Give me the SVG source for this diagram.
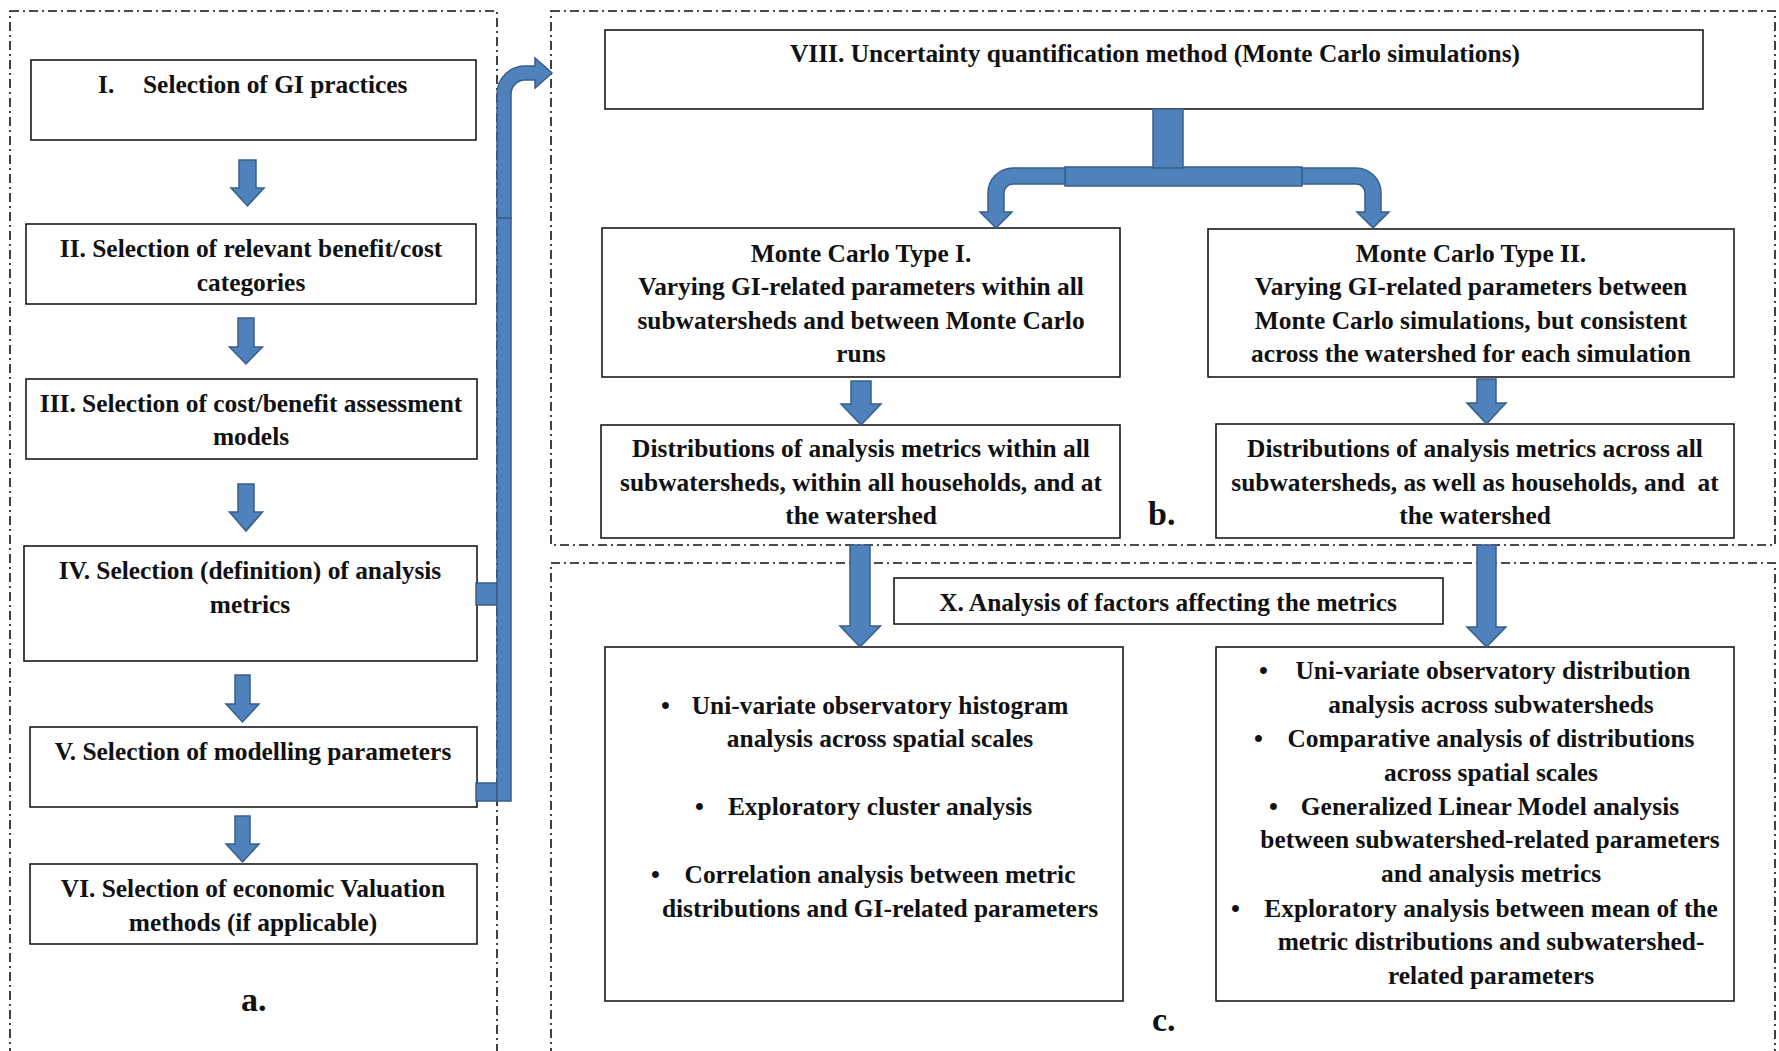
<svg xmlns="http://www.w3.org/2000/svg" width="1779" height="1051" viewBox="0 0 1779 1051">
  <style>
    .panel { fill: none; stroke: #111; stroke-width: 1.6; stroke-dasharray: 9 4 2 4; }
    .box { fill: #fff; stroke: #1a1a1a; stroke-width: 1.6; }
    .t { font-family: "Liberation Serif", "Times New Roman", serif; font-weight: bold; font-size: 25.4px; fill: #111; }
    .c { text-anchor: middle; }
    .lbl { font-family: "Liberation Serif", "Times New Roman", serif; font-weight: bold; font-size: 34px; fill: #111; }
    .arr { fill: #4f81bd; stroke: #385d8a; stroke-width: 1.5; stroke-linejoin: miter; }
  </style>

  <!-- panel frames -->
  <g id="panels">
    <rect class="panel" x="10" y="11" width="487" height="1100"/>
    <rect class="panel" x="551" y="11" width="1224" height="534"/>
    <rect class="panel" x="551" y="563" width="1224" height="600"/>
  </g>

  <!-- panel a: selection steps -->
  <g id="node-I">
    <rect class="box" x="31" y="60" width="445" height="80"/>
    <text class="t" x="98" y="93">I.</text>
    <text class="t" x="143" y="93">Selection of GI practices</text>
  </g>
  <g id="node-II">
    <rect class="box" x="26" y="224" width="450" height="80"/>
    <text class="t c" x="251" y="257">II. Selection of relevant benefit/cost</text>
    <text class="t c" x="251" y="291">categories</text>
  </g>
  <g id="node-III">
    <rect class="box" x="26" y="379" width="451" height="80"/>
    <text class="t c" x="251" y="412">III. Selection of cost/benefit assessment</text>
    <text class="t c" x="251" y="445">models</text>
  </g>
  <g id="node-IV">
    <rect class="box" x="24" y="546" width="453" height="115"/>
    <text class="t c" x="250" y="579">IV. Selection (definition) of analysis</text>
    <text class="t c" x="250" y="613">metrics</text>
  </g>
  <g id="node-V">
    <rect class="box" x="30" y="727" width="447" height="80"/>
    <text class="t c" x="253" y="760">V. Selection of modelling parameters</text>
  </g>
  <g id="node-VI">
    <rect class="box" x="30" y="864" width="447" height="80"/>
    <text class="t c" x="253" y="897">VI. Selection of economic Valuation</text>
    <text class="t c" x="253" y="931">methods (if applicable)</text>
  </g>
  <g id="label-a"><text class="lbl" x="241" y="1011">a.</text></g>

  <!-- panel b: uncertainty quantification -->
  <g id="node-VIII">
    <rect class="box" x="605" y="30" width="1098" height="79"/>
    <text class="t c" x="1155" y="62">VIII. Uncertainty quantification method (Monte Carlo simulations)</text>
  </g>
  <g id="node-mc1">
    <rect class="box" x="602" y="228" width="518" height="149"/>
    <text class="t c" x="861" y="262">Monte Carlo Type I.</text>
    <text class="t c" x="861" y="295">Varying GI-related parameters within all</text>
    <text class="t c" x="861" y="329">subwatersheds and between Monte Carlo</text>
    <text class="t c" x="861" y="362">runs</text>
  </g>
  <g id="node-mc2">
    <rect class="box" x="1208" y="229" width="526" height="148"/>
    <text class="t c" x="1471" y="262">Monte Carlo Type II.</text>
    <text class="t c" x="1471" y="295">Varying GI-related parameters between</text>
    <text class="t c" x="1471" y="329">Monte Carlo simulations, but consistent</text>
    <text class="t c" x="1471" y="362">across the watershed for each simulation</text>
  </g>
  <g id="node-dist1">
    <rect class="box" x="601" y="425" width="519" height="113"/>
    <text class="t c" x="861" y="457">Distributions of analysis metrics within all</text>
    <text class="t c" x="861" y="491">subwatersheds, within all households, and at</text>
    <text class="t c" x="861" y="524">the watershed</text>
  </g>
  <g id="node-dist2">
    <rect class="box" x="1216" y="424" width="518" height="114"/>
    <text class="t c" x="1475" y="457">Distributions of analysis metrics across all</text>
    <text class="t c" x="1475" y="491" xml:space="preserve">subwatersheds, as well as households, and  at</text>
    <text class="t c" x="1475" y="524">the watershed</text>
  </g>
  <g id="label-b"><text class="lbl" x="1148" y="525">b.</text></g>

  <!-- panel c: factor analysis -->
  <g id="node-X">
    <rect class="box" x="894" y="578" width="549" height="46"/>
    <text class="t c" x="1168" y="611">X. Analysis of factors affecting the metrics</text>
  </g>
  <g id="node-analysis1">
    <rect class="box" x="605" y="647" width="518" height="354"/>
    <text class="t" x="661" y="714">•</text>
    <text class="t c" x="880" y="714">Uni-variate observatory histogram</text>
    <text class="t c" x="880" y="747">analysis across spatial scales</text>
    <text class="t" x="695" y="815">•</text>
    <text class="t c" x="880" y="815">Exploratory cluster analysis</text>
    <text class="t" x="651" y="883">•</text>
    <text class="t c" x="880" y="883">Correlation analysis between metric</text>
    <text class="t c" x="880" y="917">distributions and GI-related parameters</text>
  </g>
  <g id="node-analysis2">
    <rect class="box" x="1216" y="647" width="518" height="354"/>
    <text class="t" x="1259" y="679">•</text>
    <text class="t c" x="1493" y="679">Uni-variate observatory distribution</text>
    <text class="t c" x="1491" y="713">analysis across subwatersheds</text>
    <text class="t" x="1254" y="747">•</text>
    <text class="t c" x="1491" y="747">Comparative analysis of distributions</text>
    <text class="t c" x="1491" y="781">across spatial scales</text>
    <text class="t" x="1269" y="815">•</text>
    <text class="t c" x="1490" y="815">Generalized Linear Model analysis</text>
    <text class="t c" x="1490" y="848">between subwatershed-related parameters</text>
    <text class="t c" x="1491" y="882">and analysis metrics</text>
    <text class="t" x="1231" y="917">•</text>
    <text class="t c" x="1491" y="917">Exploratory analysis between mean of the</text>
    <text class="t c" x="1491" y="950">metric distributions and subwatershed-</text>
    <text class="t c" x="1491" y="984">related parameters</text>
  </g>
  <g id="label-c"><text class="lbl" x="1152" y="1031">c.</text></g>

  <!-- block arrows -->
  <g id="connectors">
    <!-- panel a: step to step -->
    <path class="arr" d="M239,160 H256 V188 H264 L247.5,206 L231,188 H239 Z"/>
    <path class="arr" d="M238,318 H254 V347 H262.5 L246,364 L229.5,347 H238 Z"/>
    <path class="arr" d="M238,484 H254 V512 H262.5 L246,531 L229.5,512 H238 Z"/>
    <path class="arr" d="M235,675 H250 V704 H259 L242.5,722 L226,704 H235 Z"/>
    <path class="arr" d="M235,816 H250 V844 H259 L242.5,862 L226,844 H235 Z"/>

    <!-- panel a into panel b: collector bar with bent head -->
    <rect class="arr" x="476" y="583" width="21" height="22"/>
    <rect class="arr" x="476" y="783" width="21" height="18"/>
    <rect class="arr" x="497" y="218" width="14" height="583"/>
    <path class="arr" d="M497,218 V94 A28,28 0 0 1 525,66 H535 V58 L552,73 L535,88 V80 H525 A14,14 0 0 0 511,94 V218 Z"/>

    <!-- panel b: split into the two Monte Carlo types -->
    <rect class="arr" x="1065" y="167" width="237" height="19"/>
    <rect class="arr" x="1153" y="109" width="30" height="59"/>
    <path class="arr" d="M1065,168 H1013 A25,25 0 0 0 988,193 V212 H980 L996,228 L1012,212 H1004 V193 A9,9 0 0 1 1013,184 H1065 Z"/>
    <path class="arr" d="M1302,168 H1356 A25,25 0 0 1 1381,193 V212 H1389 L1373,228 L1357,212 H1365 V193 A9,9 0 0 0 1356,184 H1302 Z"/>
    <path class="arr" d="M851,381 H871 V404 H881 L861,425 L841,404 H851 Z"/>
    <path class="arr" d="M1477,379 H1496 V403 H1506 L1486.5,424 L1467,403 H1477 Z"/>

    <!-- panel b into panel c -->
    <path class="arr" d="M850,545 H870 V626 H880.5 L860,647 L840,626 H850 Z"/>
    <path class="arr" d="M1477,545 H1496 V627 H1506 L1486.5,647 L1467,627 H1477 Z"/>
  </g>
</svg>
